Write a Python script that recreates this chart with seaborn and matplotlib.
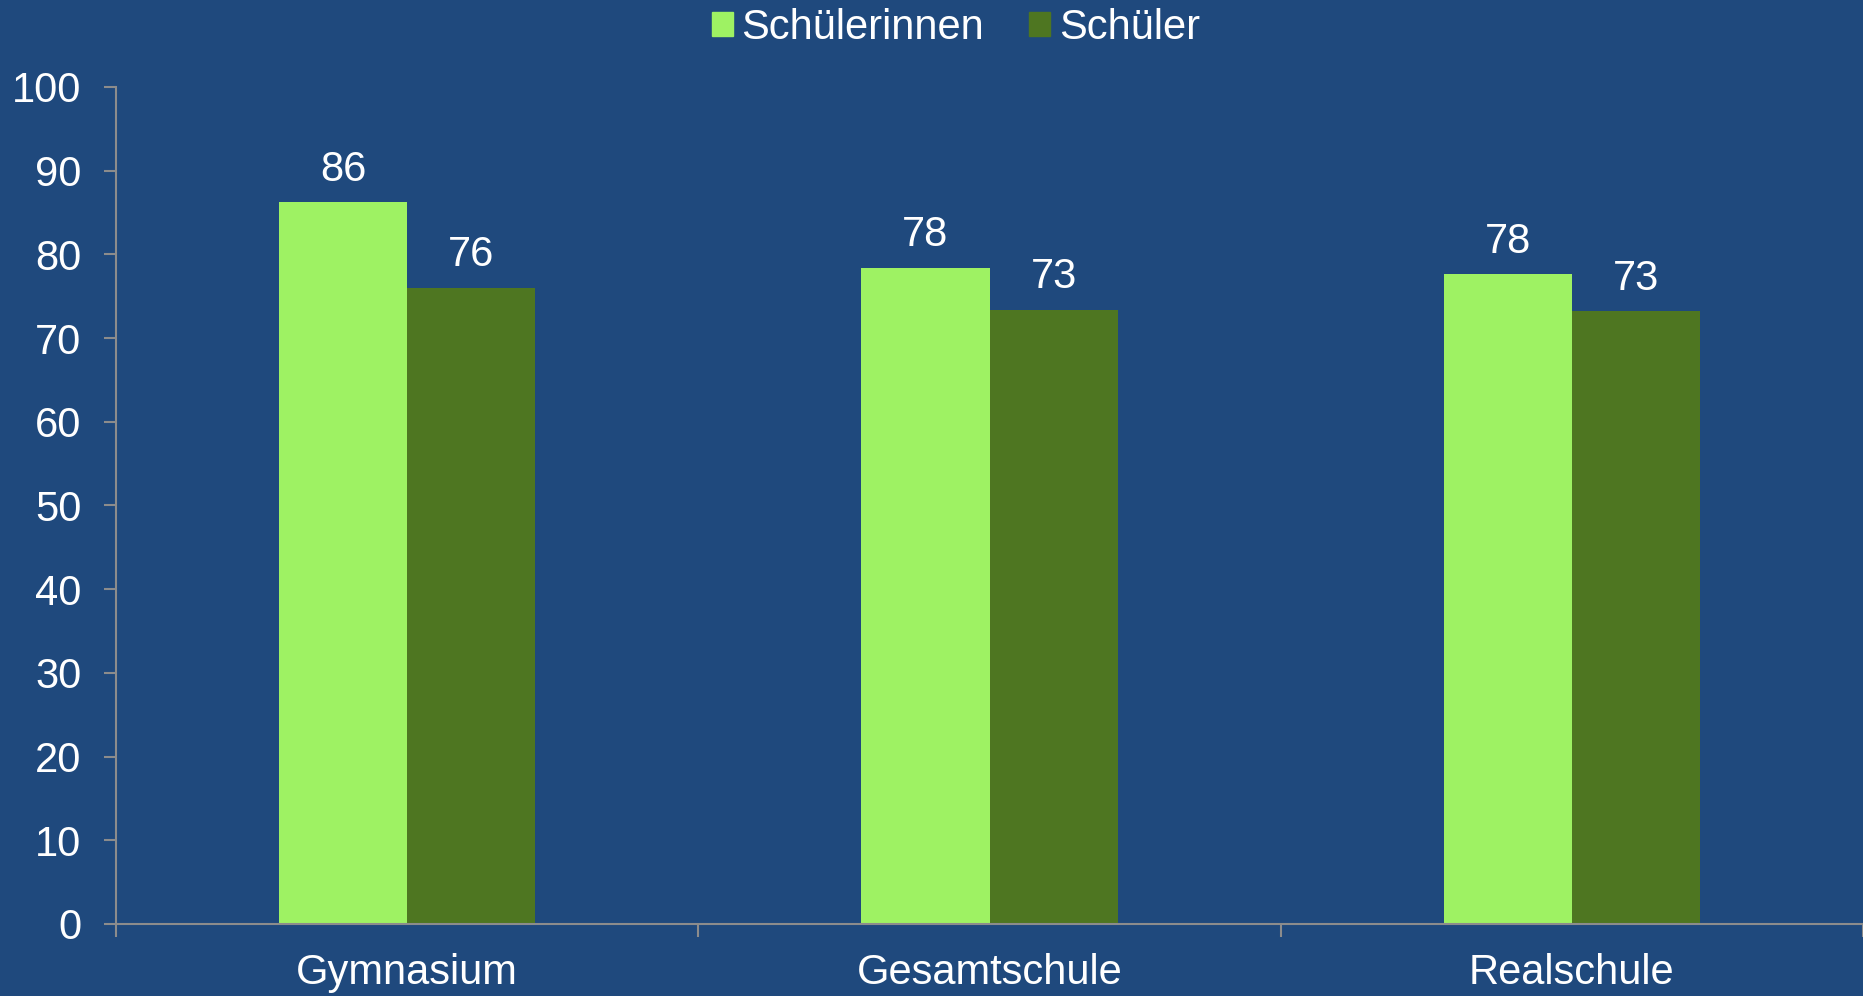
import matplotlib.pyplot as plt
import matplotlib.patches as mpatches
import matplotlib.ticker as mticker
import seaborn as sns
import pandas as pd

schulformen = ["Gymnasium", "Gesamtschule", "Realschule"]
schuelerinnen = [86.2, 78.4, 77.6]
schueler = [76.0, 73.4, 73.2]
gruppen = ["Schülerinnen", "Schüler"]

FARBEN = {
    "fundo": "#1F497D",
    "hell": "#9EF263",
    "dunkel": "#4E7621",
    "achse": "#8C8C8C",
    "text": "white",
}
FS = 30

sns.set_theme(style="white")
plt.rcParams.update({
    "font.family": ["Liberation Sans", "DejaVu Sans"],
    "font.size": FS,
    "axes.facecolor": FARBEN["fundo"],
    "figure.facecolor": FARBEN["fundo"],
    "text.color": FARBEN["text"],
    "xtick.color": FARBEN["text"],
    "ytick.color": FARBEN["text"],
})

df = pd.DataFrame({
    "Schulform": schulformen * 2,
    "Anteil": schuelerinnen + schueler,
    "Gruppe": [gruppen[0]] * 3 + [gruppen[1]] * 3,
})

fig = plt.figure(figsize=(18.63, 9.96), dpi=100)
ax = fig.add_axes([0.0623, 0.0723, 0.9377, 0.8404])

sns.barplot(data=df, x="Schulform", y="Anteil", hue="Gruppe",
            palette=[FARBEN["hell"], FARBEN["dunkel"]], width=0.44,
            saturation=1, linewidth=0, legend=False, ax=ax)

# Werte über den Balken (gerundet)
for cont in ax.containers:
    vals = [b.get_height() for b in cont]
    ax.bar_label(cont, labels=[f"{v:.0f}" for v in vals], padding=9,
                 fontsize=FS, color=FARBEN["text"])

ax.set_xlim(-0.5, 2.5)
ax.set_ylim(0, 100)
ax.set_yticks(range(0, 101, 10))
ax.set_xlabel("")
ax.set_ylabel("")

ax.xaxis.set_minor_locator(mticker.FixedLocator([-0.5, 0.5, 1.5, 2.5]))
ax.tick_params(axis="x", which="major", bottom=False, length=0,
               labelsize=FS, labelcolor=FARBEN["text"], pad=21)
ax.tick_params(axis="x", which="minor", bottom=True, length=9, width=1.5,
               color=FARBEN["achse"], direction="out")
ax.tick_params(axis="y", which="major", left=True, length=9, width=1.5,
               color=FARBEN["achse"], direction="out", labelsize=FS,
               labelcolor=FARBEN["text"], pad=16)

for side in ["top", "right"]:
    ax.spines[side].set_visible(False)
for side in ["left", "bottom"]:
    ax.spines[side].set_color(FARBEN["achse"])
    ax.spines[side].set_linewidth(1.5)

handles = [mpatches.Patch(color=FARBEN["hell"], label=gruppen[0]),
           mpatches.Patch(color=FARBEN["dunkel"], label=gruppen[1])]
fig.legend(handles=handles, loc="upper center", bbox_to_anchor=(0.513, 1.03),
           ncol=2, frameon=False, fontsize=FS, handlelength=0.5,
           handleheight=0.5, handletextpad=0.2, columnspacing=1.1,
           labelcolor=FARBEN["text"])

fig.savefig("out.png", dpi=100, facecolor=FARBEN["fundo"])
